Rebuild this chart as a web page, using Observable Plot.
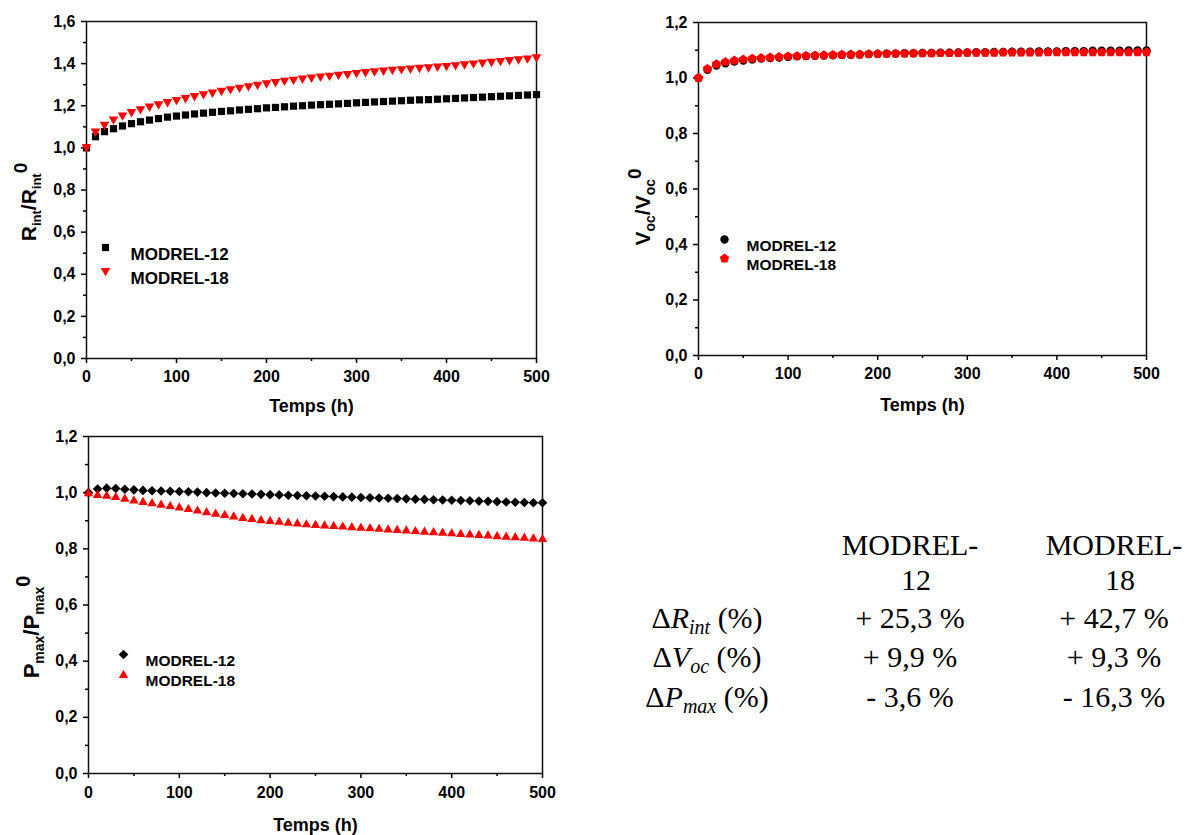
<!DOCTYPE html>
<html>
<head>
<meta charset="utf-8">
<script src="https://cdn.jsdelivr.net/npm/d3@7"></script>
<script src="https://cdn.jsdelivr.net/npm/@observablehq/plot@0.6"></script>
<style>
  body { margin: 0; background: #fff; }
  #root { position: relative; width: 1191px; height: 835px; background: #fff; overflow: hidden; }
  .panel { position: absolute; }
</style>
</head>
<body>
<div id="root"></div>
<script>
// ---------------- DATA ----------------
const hours = [0,10,20,30,40,50,60,70,80,90,100,110,120,130,140,150,160,170,180,190,200,
  210,220,230,240,250,260,270,280,290,300,310,320,330,340,350,360,370,380,390,400,
  410,420,430,440,450,460,470,480,490,500];
const seriesNames = ["MODREL-12", "MODREL-18"];

const rint12 = [1.000,1.053,1.077,1.091,1.104,1.115,1.124,1.132,1.139,1.146,1.151,1.156,1.161,1.165,1.169,1.173,1.176,1.180,1.183,1.186,1.190,
  1.192,1.195,1.198,1.200,1.203,1.205,1.207,1.209,1.211,1.214,1.216,1.218,1.220,1.222,1.224,1.226,1.228,1.229,1.231,1.233,
  1.235,1.237,1.239,1.241,1.243,1.245,1.247,1.249,1.251,1.253];
const rint18 = [1.000,1.075,1.107,1.132,1.151,1.167,1.181,1.193,1.204,1.215,1.225,1.234,1.243,1.252,1.260,1.268,1.276,1.283,1.290,1.297,1.304,
  1.310,1.316,1.321,1.326,1.331,1.336,1.340,1.344,1.348,1.353,1.357,1.361,1.364,1.368,1.371,1.374,1.377,1.380,1.383,1.386,
  1.390,1.394,1.398,1.402,1.406,1.410,1.414,1.418,1.422,1.427];

const voc12 = [1.000,1.030,1.045,1.053,1.059,1.063,1.067,1.070,1.072,1.074,1.076,1.078,1.079,1.080,1.081,1.082,1.083,1.084,1.085,1.086,1.087,
  1.088,1.088,1.089,1.089,1.090,1.090,1.091,1.091,1.092,1.092,1.093,1.093,1.094,1.094,1.095,1.095,1.095,1.096,1.096,1.096,
  1.097,1.097,1.097,1.098,1.098,1.098,1.098,1.099,1.099,1.099];
const voc18 = [1.000,1.033,1.050,1.058,1.063,1.067,1.070,1.072,1.074,1.076,1.078,1.079,1.080,1.081,1.082,1.083,1.084,1.085,1.085,1.086,1.087,
  1.087,1.088,1.088,1.089,1.089,1.089,1.090,1.090,1.090,1.091,1.091,1.091,1.091,1.092,1.092,1.092,1.092,1.092,1.093,1.093,
  1.093,1.093,1.093,1.093,1.093,1.093,1.093,1.093,1.093,1.093];

const pmax12 = [1.000,1.013,1.016,1.015,1.012,1.010,1.008,1.007,1.006,1.005,1.004,1.003,1.002,1.000,0.999,0.998,0.997,0.996,0.995,0.994,0.993,
  0.992,0.991,0.990,0.989,0.988,0.987,0.986,0.985,0.984,0.983,0.982,0.981,0.980,0.979,0.978,0.977,0.976,0.975,0.974,0.973,
  0.972,0.971,0.970,0.969,0.968,0.967,0.966,0.965,0.964,0.964];
const pmax18 = [1.000,0.994,0.991,0.986,0.980,0.974,0.969,0.964,0.959,0.954,0.949,0.944,0.938,0.932,0.927,0.922,0.917,0.912,0.908,0.904,0.901,
  0.898,0.895,0.892,0.889,0.887,0.885,0.883,0.881,0.879,0.877,0.875,0.873,0.871,0.869,0.867,0.865,0.863,0.861,0.859,0.857,
  0.855,0.853,0.851,0.849,0.847,0.845,0.843,0.841,0.839,0.837];

const xTicks = [0,100,200,300,400,500];
const xMinorTicks = [50,150,250,350,450];
const yTicksR = [0,0.2,0.4,0.6,0.8,1.0,1.2,1.4,1.6];
const yMinorR = [0.1,0.3,0.5,0.7,0.9,1.1,1.3,1.5];
const yTicks12 = [0,0.2,0.4,0.6,0.8,1.0,1.2];
const yMinor12 = [0.1,0.3,0.5,0.7,0.9,1.1];

const xLabel = "Temps (h)";
const tableColumns = ["MODREL-12", "MODREL-18"];
const tableRowSymbols = ["R", "V", "P"];
const tableRowSubs = ["int", "oc", "max"];
const tableValues12 = ["+ 25,3 %", "+ 9,9 %", "- 3,6 %"];
const tableValues18 = ["+ 42,7 %", "+ 9,3 %", "- 16,3 %"];

// ---------------- SYMBOLS ----------------
const rad = s => Math.sqrt(s / Math.PI);
const symSquare = {draw(c, s) { const r = rad(s); c.rect(-r, -r, 2 * r, 2 * r); }};
const symTriDown = {draw(c, s) { const r = rad(s); c.moveTo(-r, -0.75 * r); c.lineTo(r, -0.75 * r); c.lineTo(0, r); c.closePath(); }};
const symTriUp = {draw(c, s) { const r = rad(s); c.moveTo(-r, 0.75 * r); c.lineTo(r, 0.75 * r); c.lineTo(0, -r); c.closePath(); }};
const symDiamond = {draw(c, s) { const r = rad(s); c.moveTo(0, -r); c.lineTo(r, 0); c.lineTo(0, r); c.lineTo(-r, 0); c.closePath(); }};
const symPentagon = {draw(c, s) {
  const r = rad(s);
  for (let i = 0; i < 5; i++) {
    const a = -Math.PI / 2 + i * 2 * Math.PI / 5;
    const px = r * Math.cos(a), py = r * Math.sin(a);
    if (i === 0) c.moveTo(px, py); else c.lineTo(px, py);
  }
  c.closePath();
}};

const fmtComma = d => d.toFixed(1).replace(".", ",");
const FONT = "'Liberation Sans', Arial, sans-serif";
const RED = "#ff0000";

function rows(vals) { return hours.map((h, i) => ({h, v: vals[i]})); }

function makeChart(cfg) {
  const marks = [
    Plot.frame({stroke: "#111", strokeWidth: 1.5}),
    Plot.axisY({ticks: cfg.yMajor, tickSize: 5, tickPadding: 6, tickFormat: fmtComma, label: null, strokeWidth: 1.5, fontSize: cfg.tickFont}),
    Plot.axisY({ticks: cfg.yMinor, tickSize: 3, tickFormat: () => "", label: null, strokeWidth: 1.5}),
    Plot.axisX({ticks: xTicks, tickSize: 5, tickPadding: cfg.xPad, tickFormat: d => String(d), label: null, strokeWidth: 1.5, fontSize: cfg.tickFont}),
    Plot.axisX({ticks: xMinorTicks, tickSize: 3, tickFormat: () => "", label: null, strokeWidth: 1.5}),
    Plot.dot(rows(cfg.s12), {x: "h", y: "v", r: cfg.r12, symbol: cfg.sym12, fill: "#000", stroke: "none"}),
    Plot.dot(rows(cfg.s18), {x: "h", y: "v", r: cfg.r18, symbol: cfg.sym18, fill: RED, stroke: "none"}),
    Plot.text([xLabel], {text: d => d, frameAnchor: "bottom", dy: cfg.xLabelDy, fontSize: 18, fontWeight: "bold"}),
    // legend
    Plot.dot([seriesNames[0]], {frameAnchor: "top-left", dx: cfg.legDx, dy: cfg.legDy, r: cfg.r12, symbol: cfg.sym12, fill: "#000", stroke: "none"}),
    Plot.dot([seriesNames[1]], {frameAnchor: "top-left", dx: cfg.legDx, dy: cfg.legDy + cfg.legGap, r: cfg.r18, symbol: cfg.sym18, fill: RED, stroke: "none"}),
    Plot.text([seriesNames[0]], {text: d => d, frameAnchor: "top-left", dx: cfg.legTextDx, dy: cfg.legDy, textAnchor: "start", fontSize: cfg.legFont, fontWeight: "bold"}),
    Plot.text([seriesNames[1]], {text: d => d, frameAnchor: "top-left", dx: cfg.legTextDx, dy: cfg.legDy + cfg.legGap, textAnchor: "start", fontSize: cfg.legFont, fontWeight: "bold"})
  ];
  const svg = Plot.plot({
    width: cfg.width, height: cfg.height,
    marginLeft: cfg.ml, marginRight: cfg.mr, marginTop: cfg.mt, marginBottom: cfg.mb,
    x: {domain: [0, 500]},
    y: {domain: cfg.yDomain},
    style: {fontFamily: FONT, fontSize: "16px", fontWeight: "bold", color: "#000", background: "transparent", overflow: "visible"},
    marks
  });
  // y label with sub/superscripts
  const t = d3.select(svg).append("text")
    .attr("transform", `translate(${cfg.yLabX},${cfg.yLabY}) rotate(-90)`)
    .attr("text-anchor", "middle")
    .attr("font-family", FONT).attr("font-weight", "bold").attr("fill", "#000");
  const main = cfg.yLabMain, sub = cfg.yLabSub;
  t.append("tspan").attr("font-size", main).text(cfg.yLabSym);
  t.append("tspan").attr("font-size", sub).attr("dy", 5).text(cfg.yLabIdx);
  t.append("tspan").attr("font-size", main).attr("dy", -5).text("/");
  t.append("tspan").attr("font-size", main).text(cfg.yLabSym);
  t.append("tspan").attr("font-size", sub).attr("dy", 5).text(cfg.yLabIdx);
  t.append("tspan").attr("font-size", main - 2).attr("dy", -14).text("0");
  return svg;
}

const root = document.getElementById("root");
function place(node, left, top) {
  const d = document.createElement("div");
  d.className = "panel";
  d.style.left = left + "px"; d.style.top = top + "px";
  d.appendChild(node);
  root.appendChild(d);
}

place(makeChart({
  width: 560, height: 420, ml: 86, mr: 24, mt: 21, mb: 62,
  yDomain: [0, 1.6], yMajor: yTicksR, yMinor: yMinorR, xPad: 7, tickFont: 16,
  s12: rint12, s18: rint18, sym12: symSquare, sym18: symTriDown, r12: 3.6, r18: 4.8,
  xLabelDy: 53, legDx: 19, legDy: 226, legGap: 24, legTextDx: 44, legFont: 17,
  yLabX: 36, yLabY: 202, yLabMain: 21, yLabSub: 13, yLabSym: "R", yLabIdx: "int"
}), 0, 0);

place(makeChart({
  width: 591, height: 420, ml: 98, mr: 45, mt: 22, mb: 65,
  yDomain: [0, 1.2], yMajor: yTicks12, yMinor: yMinor12, xPad: 7, tickFont: 16,
  s12: voc12, s18: voc18, sym12: "circle", sym18: symPentagon, r12: 4.2, r18: 4.9,
  xLabelDy: 55, legDx: 26, legDy: 217, legGap: 19, legTextDx: 48, legFont: 15.5,
  yLabX: 50, yLabY: 207, yLabMain: 21, yLabSub: 14, yLabSym: "V", yLabIdx: "oc"
}), 600, 0);

place(makeChart({
  width: 560, height: 415, ml: 88, mr: 18, mt: 16, mb: 62,
  yDomain: [0, 1.2], yMajor: yTicks12, yMinor: yMinor12, xPad: 8, tickFont: 16,
  s12: pmax12, s18: pmax18, sym12: symDiamond, sym18: symTriUp, r12: 4.8, r18: 4.7,
  xLabelDy: 57, legDx: 35, legDy: 218, legGap: 20, legTextDx: 57, legFont: 15.5,
  yLabX: 39, yLabY: 207, yLabMain: 22, yLabSub: 14, yLabSym: "P", yLabIdx: "max"
}), 0, 420);

// ---------------- TABLE ----------------
const tbl = d3.create("svg").attr("width", 591).attr("height", 235)
  .attr("font-family", "'Liberation Serif', 'Times New Roman', serif").attr("fill", "#000");
const colX = [107, 310, 514];
const headBase = [55, 90];
const rowBase = [128, 167, 207];
const TF = 30;
tableColumns.forEach((name, j) => {
  const cut = name.indexOf("-") + 1;
  tbl.append("text").attr("x", colX[j + 1]).attr("y", headBase[0]).attr("text-anchor", "middle").attr("font-size", TF).text(name.slice(0, cut));
  tbl.append("text").attr("x", colX[j + 1] + 6).attr("y", headBase[1]).attr("text-anchor", "middle").attr("font-size", TF).text(name.slice(cut));
});
tableRowSymbols.forEach((s, i) => {
  const t = tbl.append("text").attr("x", colX[0]).attr("y", rowBase[i]).attr("text-anchor", "middle").attr("font-size", TF);
  t.append("tspan").text("\u0394");
  t.append("tspan").attr("font-style", "italic").text(s);
  t.append("tspan").attr("font-style", "italic").attr("font-size", 20).attr("dy", 6).text(tableRowSubs[i]);
  t.append("tspan").attr("dy", -6).text(" (%)");
  tbl.append("text").attr("x", colX[1]).attr("y", rowBase[i]).attr("text-anchor", "middle").attr("font-size", TF).text(tableValues12[i]);
  tbl.append("text").attr("x", colX[2]).attr("y", rowBase[i]).attr("text-anchor", "middle").attr("font-size", TF).text(tableValues18[i]);
});
place(tbl.node(), 600, 500);
</script>
</body>
</html>
